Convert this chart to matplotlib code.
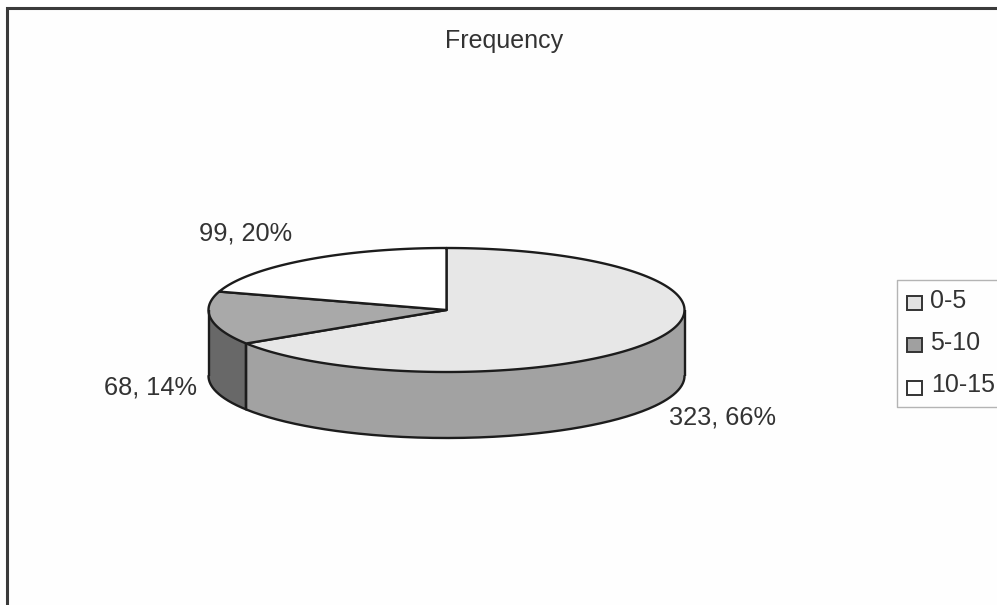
import numpy as np
import matplotlib
matplotlib.use("Agg")
import matplotlib.pyplot as plt
from matplotlib.patches import Polygon, Rectangle

categories = ["0-5", "5-10", "10-15"]
values = [323, 68, 99]
percents = [66, 14, 20]
title = "Frequency"

W, H = 997, 605
INK = "#333333"
EDGE = "#1c1c1c"
top_colors = ["#e7e7e7", "#a9a9a9", "#ffffff"]
side_colors = ["#a2a2a2", "#686868", "#d0d0d0"]
legend_colors = ["#e2e2e2", "#a0a0a0", "#ffffff"]

plt.rcParams["font.family"] = ["Liberation Sans", "DejaVu Sans"]
fig = plt.figure(figsize=(W / 100, H / 100), dpi=100, facecolor="#fefefe")
ax = fig.add_axes([0, 0, 1, 1])
ax.set_xlim(0, W)
ax.set_ylim(H, 0)
ax.axis("off")

cx, cy, rx, ry, depth = 446.5, 310, 238, 62, 66


def rim(a, b, n=200):
    t = np.linspace(a, b, n)
    return np.column_stack([cx + rx * np.sin(t), cy - ry * np.cos(t)])


fractions = np.array(values) / sum(values)
edges = np.concatenate([[0], np.cumsum(fractions) * 2 * np.pi])

# side walls: only the front half (theta between pi/2 and 3pi/2) is visible
for i in range(len(values)):
    a, b = max(edges[i], np.pi / 2), min(edges[i + 1], 1.5 * np.pi)
    if a >= b:
        continue
    upper = rim(a, b)
    lower = upper[::-1] + [0, depth]
    wall = Polygon(np.vstack([upper, lower]), closed=True, facecolor=side_colors[i],
                   edgecolor="none", zorder=2)
    ax.add_patch(wall)
    ax.plot(*lower.T, color=EDGE, lw=1.7, zorder=4, solid_capstyle="round")
    for p in (upper[0], upper[-1]):
        ax.plot([p[0], p[0]], [p[1], p[1] + depth], color=EDGE, lw=1.7, zorder=4,
                solid_capstyle="butt")

# top faces
for i in range(len(values)):
    outer = rim(edges[i], edges[i + 1])
    pts = np.vstack([[cx, cy], outer])
    ax.add_patch(Polygon(pts, closed=True, facecolor=top_colors[i], edgecolor=EDGE,
                         lw=1.7, joinstyle="round", zorder=3))

# data labels
label_pos = [(669, 418), (104, 388), (199, 233)]
for v, p, (x, y) in zip(values, percents, label_pos):
    ax.text(x, y, f"{v}, {p}%", fontsize=18.3, color=INK, ha="left", va="center", zorder=6)

ax.text(504, 41, title, fontsize=18, color=INK, ha="center", va="center")

# chart frame: top and left only reach the visible picture
ax.plot([7, 7, W], [H, 8, 8], color="#3a3a3a", lw=2.2, solid_joinstyle="miter", clip_on=False)

# legend
ax.plot([W, 897, 897, W], [280, 280, 407, 407], color="#b4b4b4", lw=1.0)
box_y = [303, 345, 388]
text_y = [301.5, 343, 385.5]
text_x = [930, 930, 931]
for c, name, by, ty, tx in zip(legend_colors, categories, box_y, text_y, text_x):
    ax.add_patch(Rectangle((907, by - 7), 14.5, 14, facecolor=c, edgecolor="#333333", lw=1.4))
    ax.text(tx, ty, name, fontsize=18, color=INK, ha="left", va="center")

fig.savefig("out.png", dpi=100, facecolor=fig.get_facecolor())
